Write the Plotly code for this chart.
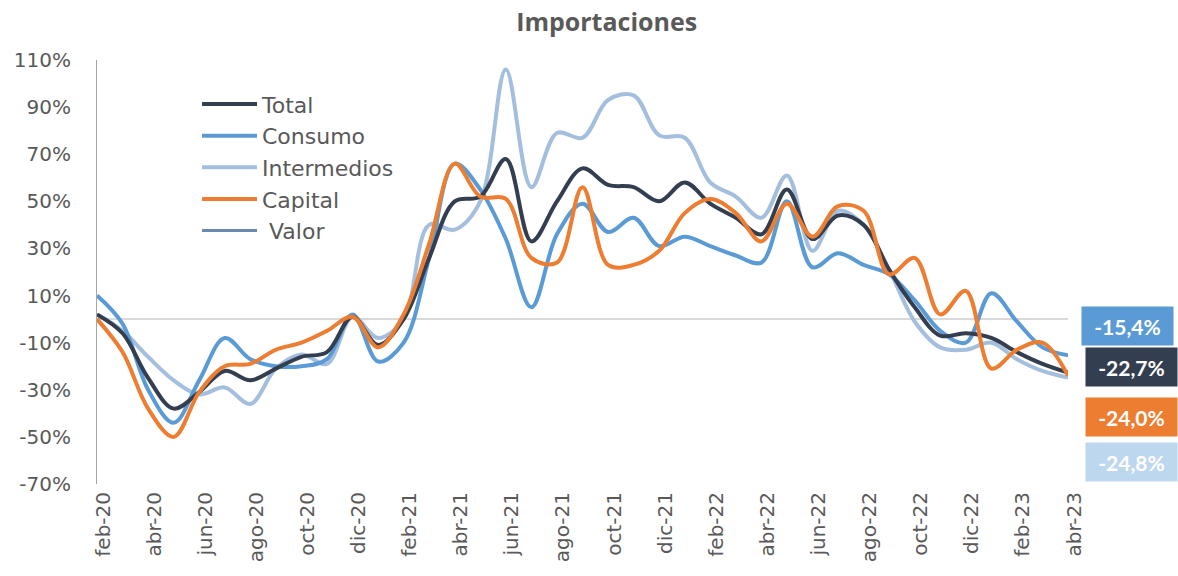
import plotly.graph_objects as go

months = ["feb-20","mar-20","abr-20","may-20","jun-20","jul-20","ago-20","sep-20","oct-20","nov-20","dic-20",
          "ene-21","feb-21","mar-21","abr-21","may-21","jun-21","jul-21","ago-21","sep-21","oct-21","nov-21","dic-21",
          "ene-22","feb-22","mar-22","abr-22","may-22","jun-22","jul-22","ago-22","sep-22","oct-22","nov-22","dic-22",
          "ene-23","feb-23","mar-23","abr-23"]

total = [2, -6, -25, -38, -31, -22, -26, -21, -16, -14, 1,
         -11, 0, 26, 50, 52, 68, 33, 50, 64, 57, 56, 50,
         58, 49, 43, 36, 55, 34, 44, 40, 21, 5, -7, -6,
         -8, -14, -19, -22.7]
consumo = [10, -2, -30, -44, -26, -8, -17, -20, -20, -17, 2,
           -18, -10, 26, 66, 55, 34, 5, 36, 49, 37, 43, 31,
           35, 31, 27, 24, 50, 22, 28, 23, 19, 8, -5, -10,
           11, -1, -12, -15.4]
intermedios = [2, -5, -16, -26, -32, -29, -36, -21, -15, -19, 1,
               -8, 0, 40, 38, 50, 106, 56, 79, 77, 93, 95, 78,
               77, 58, 52, 43, 61, 29, 46, 40, 21, -1, -12, -13,
               -10, -17, -22, -24.8]
capital = [0, -14, -38, -50, -31, -20, -19, -13, -10, -5, 1,
           -12, 2, 32, 66, 52, 51, 26, 24, 56, 23, 23, 29,
           45, 51, 45, 33, 49, 35, 48, 46, 19, 26, 2, 12,
           -21, -13, -10, -24.0]

tick_labels = months[::2]
y_ticks = [-70, -50, -30, -10, 10, 30, 50, 70, 90, 110]

C_TOTAL = "#333F50"
C_CONS = "#5B9BD5"
C_INT = "#A3BFDD"
C_CAP = "#ED7D31"
C_VAL = "#6A8AAD"
GRAY = "#595959"
FONT = "DejaVu Sans"

idx = list(range(len(months)))
fig = go.Figure()

def add(name, vals, color, rank):
    fig.add_trace(go.Scatter(
        x=idx, y=vals, name=name, mode="lines",
        line=dict(color=color, width=4, shape="spline", smoothing=1),
        legendrank=rank, legendgroup=name, hoverinfo="skip"))

add("Intermedios", intermedios, C_INT, 3)
add("Consumo", consumo, C_CONS, 2)
add("Total", total, C_TOTAL, 1)
add("Capital", capital, C_CAP, 4)
fig.add_trace(go.Scatter(x=[None], y=[None], name=" Valor", mode="lines",
                         line=dict(color=C_VAL, width=3), legendrank=5, legendgroup="Valor"))

# end labels (boxes at right of plot)
labels = [(consumo[-1], C_CONS, 1127, 326), (total[-1], C_TOTAL, 1131, 367),
          (capital[-1], C_CAP, 1131, 417), (intermedios[-1], "#BDD7EE", 1131, 462)]
for v, col, px, py in labels:
    fig.add_annotation(
        x=(px - 97) / 971, y=(484 - py) / 424, xref="paper", yref="paper",
        text=f"{v:.1f}%".replace(".", ","), showarrow=False,
        font=dict(family="Lato", size=21, color="white", weight="bold"),
        bgcolor=col, width=91, height=38, borderpad=0, xanchor="center", yanchor="middle")

fig.update_layout(
    width=1178, height=576,
    margin=dict(l=97, r=110, t=60, b=92, autoexpand=False),
    paper_bgcolor="white", plot_bgcolor="white",
    title=dict(text="<b>Importaciones</b>", x=0.515, xanchor="center", y=0.962, yanchor="middle",
               font=dict(family="Open Sans", size=25, color=GRAY)),
    showlegend=True,
    legend=dict(x=0.103, y=0.945, xanchor="left", yanchor="top",
                font=dict(family=FONT, size=22, color=GRAY),
                bgcolor="rgba(0,0,0,0)", tracegroupgap=0, itemwidth=55),
    font=dict(family=FONT, color=GRAY),
)
fig.update_xaxes(
    range=[0, len(months) - 1], tickmode="array",
    tickvals=idx[::2], ticktext=tick_labels, tickangle=-90,
    tickfont=dict(family=FONT, size=20, color=GRAY), automargin=False,
    showgrid=False, showline=False, zeroline=False, ticks="", ticklabelstandoff=3,
    ticklabelshift=6)
fig.update_yaxes(
    range=[-70, 110], tickmode="array", tickvals=y_ticks,
    ticktext=[f"{t}%" for t in y_ticks], automargin=False,
    tickfont=dict(family=FONT, size=20, color=GRAY),
    showgrid=False, showline=True, linecolor="#A6A6A6", linewidth=1,
    zeroline=True, zerolinecolor="#D9D9D9", zerolinewidth=1.5,
    ticks="", ticklabelstandoff=21)

fig.write_html("out.html", config={"displayModeBar": False},
               post_script="document.body.style.margin='0';")
